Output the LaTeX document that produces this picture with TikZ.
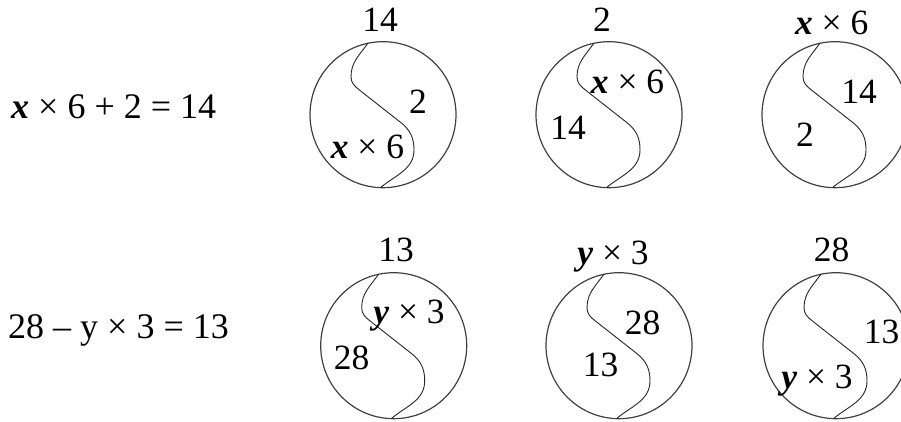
\documentclass[tikz,border=0pt]{standalone}
\usepackage{fontspec}
\setmainfont{Liberation Serif}

\begin{document}
\begin{tikzpicture}[
    x=1pt, y=1pt,
    disc/.style={circle, draw=black!75, line width=1.2pt, minimum size=146pt, inner sep=0pt, outer sep=0pt},
    wave/.style={black!85, line width=0.9pt},
    lbl/.style={anchor=base, inner sep=0pt, font=\fontsize{35.5}{40}\selectfont},
    eqn/.style={anchor=base west, inner sep=0pt, font=\fontsize{36}{40}\selectfont},
]
\useasboundingbox (0, 0) rectangle (901, 422);

% ========== EQUATIONS ==========
\node[eqn] (eqx) at (11, 303.7) {\textbf{\textit{x}} × 6 + 2 = 14};
\node[eqn] (eqy) at (8, 83.7) {28 – y × 3 = 13};

% ========== CIRCLES ==========
% Row 1 (x)
\node[disc] (c1) at (383, 307.3) {};
\node[disc] (c2) at (609, 307.3) {};
\node[disc] (c3) at (835, 307.3) {};

% Row 2 (y)
\node[disc] (c4) at (393.7, 76.3) {};
\node[disc] (c5) at (619, 76.3) {};
\node[disc] (c6) at (836, 76.3) {};

% ========== S CURVES ==========
\draw[wave, shift={(c1.center)}] (c1.102) to[out=235, in=90] (-32, 38) to[out=-90, in=141.6] (-24, 25) -- (18, -8) to[out=-38.4, in=90] (31, -35) to[out=-90, in=40] (c1.268);
\draw[wave, shift={(c2.center)}] (c2.102) to[out=235, in=90] (-32, 38) to[out=-90, in=141.6] (-24, 25) -- (18, -8) to[out=-38.4, in=90] (31, -35) to[out=-90, in=40] (c2.268);
\draw[wave, shift={(c3.center)}] (c3.102) to[out=235, in=90] (-32, 38) to[out=-90, in=141.6] (-24, 25) -- (18, -8) to[out=-38.4, in=90] (31, -35) to[out=-90, in=40] (c3.268);
\draw[wave, shift={(c4.center)}] (c4.102) to[out=235, in=90] (-32, 38) to[out=-90, in=141.6] (-24, 25) -- (18, -8) to[out=-38.4, in=90] (31, -35) to[out=-90, in=40] (c4.268);
\draw[wave, shift={(c5.center)}] (c5.102) to[out=235, in=90] (-32, 38) to[out=-90, in=141.6] (-24, 25) -- (18, -8) to[out=-38.4, in=90] (31, -35) to[out=-90, in=40] (c5.268);
\draw[wave, shift={(c6.center)}] (c6.102) to[out=235, in=90] (-32, 38) to[out=-90, in=141.6] (-24, 25) -- (18, -8) to[out=-38.4, in=90] (31, -35) to[out=-90, in=40] (c6.268);

% ========== LABELS ==========
% Row 1
\node[lbl] (t1) at (380, 390) {14};
\node[lbl] (a1) at (418, 308.7) {2};
\node[lbl] (b1) at (367.5, 263.7) {\textbf{\textit{x}} × 6};

\node[lbl] (t2) at (602, 390) {2};
\node[lbl] (a2) at (627.5, 328.7) {\textbf{\textit{x}} × 6};
\node[lbl] (b2) at (568, 282) {14};

\node[lbl] (t3) at (831.7, 387) {\textbf{\textit{x}} × 6};
\node[lbl] (a3) at (859, 318.7) {14};
\node[lbl] (b3) at (805, 275) {2};

% Row 2
\node[lbl] (t4) at (396, 160.3) {13};
\node[lbl] (a4) at (409, 98.7) {\textbf{\textit{y}} × 3};
\node[lbl] (b4) at (351.5, 52) {28};

\node[lbl] (t5) at (613, 157) {\textbf{\textit{y}} × 3};
\node[lbl] (a5) at (642.5, 87) {28};
\node[lbl] (b5) at (600.5, 45.3) {13};

\node[lbl] (t6) at (831.7, 160.3) {28};
\node[lbl] (a6) at (881.5, 78.7) {13};
\node[lbl] (b6) at (817, 33.7) {\textbf{\textit{y}} × 3};

\end{tikzpicture}
\end{document}
